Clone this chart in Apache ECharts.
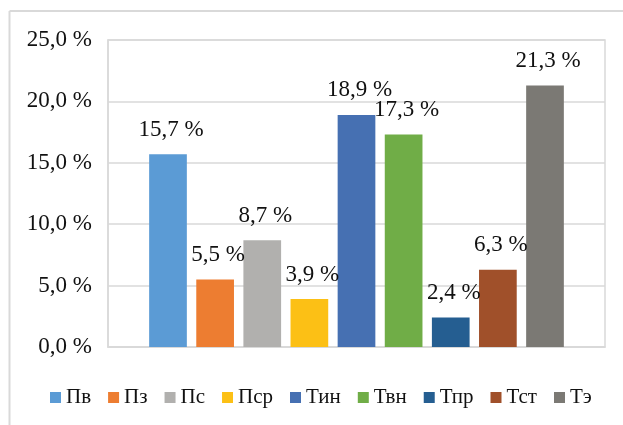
<!DOCTYPE html>
<html>
<head>
<meta charset="utf-8">
<script src="https://cdn.jsdelivr.net/npm/echarts@6/dist/echarts.min.js"></script>
<style>
html,body{margin:0;padding:0;background:#fff;}
#chart{width:623px;height:425px;}
</style>
</head>
<body>
<div id="chart"></div>
<script>
const categories = ['Пв','Пз','Пс','Пср','Тин','Твн','Тпр','Тст','Тэ'];
const values = [15.7, 5.5, 8.7, 3.9, 18.9, 17.3, 2.4, 6.3, 21.3];
const colors = ['#5B9BD5','#ED7D31','#B1B0AE','#FCC015','#4670B2','#70AD47','#255E91','#A0502A','#7B7974'];
const yMin = 0, yMax = 25, yStep = 5;

const FONT = "'Liberation Serif', 'Times New Roman', serif";
const fmt = v => v.toFixed(1).replace('.', ',') + ' %';

const chart = echarts.init(document.getElementById('chart'), null, {renderer: 'canvas'});

const series = categories.map((name, i) => ({
  name: name,
  type: 'bar',
  data: [values[i]],
  barWidth: 37.7,
  barGap: '25%',
  itemStyle: {color: colors[i]},
  label: {
    show: true,
    position: 'top',
    distance: 13,
    offset: [3, 0],
    fontFamily: FONT,
    fontSize: 23,
    color: '#111',
    formatter: p => fmt(p.value)
  }
}));

chart.setOption({
  animation: false,
  backgroundColor: '#fff',
  color: colors,
  graphic: [
    {type: 'line', shape: {x1: 9.5, y1: 11, x2: 623, y2: 11}, style: {stroke: '#d9d9d9', lineWidth: 2}, silent: true},
    {type: 'line', shape: {x1: 9.5, y1: 11, x2: 9.5, y2: 425}, style: {stroke: '#d9d9d9', lineWidth: 2}, silent: true}
  ],
  grid: {
    left: 108, right: 18, top: 40, bottom: 78,
    show: true, borderColor: '#d9d9d9', borderWidth: 1.5, backgroundColor: 'transparent'
  },
  legend: {
    data: categories,
    left: 50, top: 387,
    padding: 0,
    itemWidth: 11, itemHeight: 11, itemGap: 17,
    icon: 'rect',
    textStyle: {fontFamily: FONT, fontSize: 21, color: '#111'}
  },
  xAxis: {
    type: 'category',
    data: [''],
    axisLine: {show: true, lineStyle: {color: '#d9d9d9', width: 1.5}},
    axisTick: {show: false},
    axisLabel: {show: false},
    splitLine: {show: false}
  },
  yAxis: {
    type: 'value',
    min: yMin, max: yMax, interval: yStep,
    axisLine: {show: true, lineStyle: {color: '#d9d9d9', width: 1.5}},
    axisTick: {show: false},
    axisLabel: {fontFamily: FONT, fontSize: 23, color: '#111', margin: 16, formatter: v => fmt(v)},
    splitLine: {show: true, lineStyle: {color: '#d9d9d9', width: 1.5}}
  },
  series: series
});
</script>
</body>
</html>
